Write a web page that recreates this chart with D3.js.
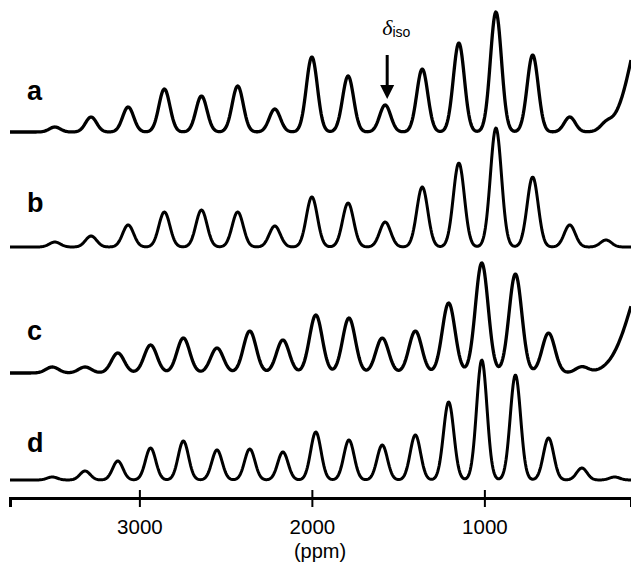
<!DOCTYPE html>
<html><head><meta charset="utf-8">
<script src="https://cdn.jsdelivr.net/npm/d3@7"></script>
<style>body{margin:0;background:#fff} svg{display:block}</style>
</head><body>
<svg id="chart" width="631" height="565"></svg>
<script>
// ---- data ----
const traceLabels = ["a", "b", "c", "d"];
const axisTicks = [3000, 2000, 1000];
const axisTitle = "(ppm)";
const deltaIso = 1575;           // isotropic shift marked by the arrow
// sideband positions (ppm): traces a,b share one spinning rate, c,d another
const peaksAB = [3490, 3280, 3065, 2855, 2640, 2430, 2215, 2000, 1790, 1575, 1360, 1148, 933, 720, 505, 295];
const peaksCD = [3505, 3315, 3125, 2935, 2745, 2550, 2360, 2168, 1977, 1785, 1592, 1400, 1207, 1015, 820, 628, 435, 245];
const heightsA = [5, 15, 25, 43, 36, 46, 23, 75, 56, 27, 63, 89, 120, 77, 15, 6];
const heightsB = [5, 11, 22, 35, 37, 35, 21, 50, 44, 25, 60, 84, 119, 70, 22, 7];
const heightsC = [6, 6, 20, 28, 35, 25, 42, 33, 58, 55, 35, 42, 70, 110, 99, 40, 6, 0];
const heightsD = [3, 9, 19, 32, 39, 30, 31, 28, 48, 40, 35, 45, 78, 120, 105, 42, 12, 3];
const sigmas = [32, 32, 37, 30];   // line width (gaussian sigma, ppm) per trace
// broad signal just outside the window (rising edge at the right of a and c)
const edgeA = {ppm: 25, height: 146, sigma: 105};
const edgeC = {ppm: 25, height: 115, sigma: 120};

// ---- layout ----
const W = 631, H = 565;
const x = d3.scaleLinear().domain([3750, 150]).range([10, 631]);
const baselines = [132, 247, 373, 480];
const svg = d3.select("#chart");

const traces = [
  {label: "a", pos: peaksAB, h: heightsA, s: sigmas[0], edge: edgeA},
  {label: "b", pos: peaksAB, h: heightsB, s: sigmas[1], edge: null},
  {label: "c", pos: peaksCD, h: heightsC, s: sigmas[2], edge: edgeC},
  {label: "d", pos: peaksCD, h: heightsD, s: sigmas[3], edge: null}
];

const grid = d3.range(3750, 149, -4);
function intensity(t, p) {
  let v = 0;
  t.pos.forEach((c, i) => { const z = (p - c) / t.s; v += t.h[i] * Math.exp(-0.5 * z * z); });
  if (t.edge) { const z = (p - t.edge.ppm) / t.edge.sigma; v += t.edge.height * Math.exp(-0.5 * z * z); }
  return v;
}

traces.forEach((t, k) => {
  const y = d3.scaleLinear().domain([0, 130]).range([baselines[k], baselines[k] - 130]);
  const pts = grid.map(p => [p, intensity(t, p)]);
  svg.append("path")
    .attr("d", d3.line().x(d => x(d[0])).y(d => y(d[1]))(pts))
    .attr("fill", "none").attr("stroke", "#000")
    .attr("stroke-width", (k % 2 === 0) ? 3.3 : 3)
    .attr("stroke-linejoin", "round");
  svg.append("text").text(traceLabels[k])
    .attr("x", 27).attr("y", [100, 212, 340, 452][k])
    .attr("font-family", "Liberation Sans, Arial, sans-serif")
    .attr("font-weight", "bold").attr("font-size", 27);
});

// axis
const axisG = svg.append("g").attr("transform", "translate(0,498)")
  .call(d3.axisBottom(x).tickValues(axisTicks).tickSizeOuter(0).tickSize(9).tickPadding(12).tickFormat(d3.format("d")));
axisG.select(".domain").attr("stroke", "#000").attr("stroke-width", 3);
axisG.selectAll(".tick line").attr("y1", -8).attr("y2", 9).attr("stroke-width", 2);
axisG.selectAll(".tick text").attr("font-family", "Liberation Sans, Arial, sans-serif")
  .attr("font-size", 20.5).attr("fill", "#000");
svg.append("text").text(axisTitle).attr("x", 320).attr("y", 558)
  .attr("text-anchor", "middle")
  .attr("font-family", "Liberation Sans, Arial, sans-serif").attr("font-size", 20);

// delta iso annotation
const ax = x(deltaIso) + 2;
svg.append("line").attr("x1", ax).attr("x2", ax).attr("y1", 55).attr("y2", 87)
  .attr("stroke", "#000").attr("stroke-width", 3);
svg.append("path").attr("d", `M${ax - 7},85 L${ax + 7},85 L${ax},99 Z`).attr("fill", "#000");
const lab = svg.append("text").attr("x", ax - 5).attr("y", 35)
  .attr("font-family", "Liberation Sans, Arial, sans-serif");
lab.append("tspan").text("δ").attr("font-family", "Liberation Serif, Times New Roman, serif")
  .attr("font-style", "italic").attr("font-size", 22);
lab.append("tspan").text("iso").attr("font-size", 14).attr("dy", 2);
</script>
</body></html>
